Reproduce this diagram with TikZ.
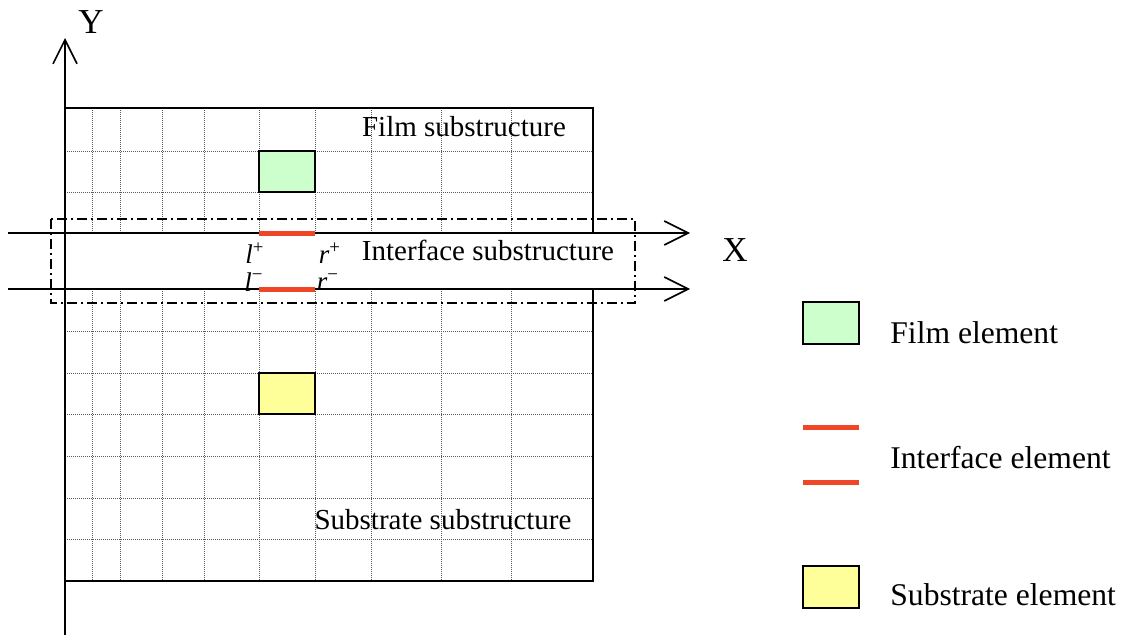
\documentclass[tikz,border=0pt]{standalone}
\usepackage{fontspec}
\setmainfont{Liberation Serif}
\usetikzlibrary{arrows.meta}
\definecolor{filmgreen}{HTML}{CCFFCC}
\definecolor{subyellow}{HTML}{FFFF99}
\definecolor{ifacered}{HTML}{F04628}

\begin{document}
\begin{tikzpicture}[x=0.5pt,y=-0.5pt,
    gridline/.style={black!65,dash pattern=on 0.5pt off 0.5pt,line width=0.5pt},
    outline/.style={black,line width=0.8pt},
    axis/.style={black,line width=0.8pt,-{Straight Barb[length=12pt,width=12pt,line width=0.8pt]}},
    element/.style={draw=black,line width=0.8pt},
    iface/.style={ifacered,line width=2.5pt},
    dashdot/.style={line width=0.7pt,dash pattern=on 5pt off 2pt on 1pt off 2pt},
    lbl/.style={font=\fontsize{14.5}{16}\selectfont,inner sep=0pt},
    idx/.style={font=\fontsize{13.5}{15}\selectfont,inner sep=0pt},
    axlbl/.style={font=\fontsize{17.5}{20}\selectfont,inner sep=0pt},
    leg/.style={font=\fontsize{15.8}{18}\selectfont,inner sep=0pt,anchor=west}]
    \useasboundingbox (0,0) rectangle (1125,637);

    % Mesh
    \foreach \gx in {92,120,162,204,259,315,371,441,511} {
        \draw[gridline] (\gx,108) -- (\gx,233);
        \draw[gridline] (\gx,289) -- (\gx,581);
    }
    \foreach \gy in {151,192,331,373,414,456,498,539}
        \draw[gridline] (65,\gy) -- (593,\gy);

    % Substructures
    \draw[outline] (65,233) -- (65,108) -- (593,108) -- (593,233);
    \draw[outline] (65,289) -- (65,581) -- (593,581) -- (593,289);
    \draw[dashdot] (51,219) rectangle (635,303);

    % Axes
    \draw[axis] (65,635) -- (65,38);
    \draw[axis] (8,233) -- (690,233);
    \draw[axis] (8,289) -- (690,289);
    \node[axlbl] (ylabel) at (91,22) {Y};
    \node[axlbl] (xlabel) at (735,250) {X};

    % Elements
    \draw[element,fill=filmgreen] (259,151) rectangle (315,192);
    \draw[element,fill=subyellow] (259,373) rectangle (315,414);
    \draw[iface] (259,233) -- (315,233);
    \draw[iface] (259,289) -- (315,289);
    \node[idx] (lplus) at (255,253) {\textit{l}\textsuperscript{+}};
    \node[idx] (rplus) at (330,253) {\textit{r}\textsuperscript{+}};
    \node[idx] (lminus) at (254,282) {\textit{l}\textsuperscript{−}};
    \node[idx] (rminus) at (328,282) {\textit{r}\textsuperscript{−}};

    \node[lbl] (filmsub) at (464,127) {Film substructure};
    \node[lbl] (ifacesub) at (488,250) {Interface substructure};
    \node[lbl] (subsub) at (443,520) {Substrate substructure};

    % Legend
    \draw[element,fill=filmgreen] (803,302) rectangle (859,344);
    \node[leg] (legfilm) at (890,333) {Film element};
    \draw[iface] (803,427) -- (859,427);
    \draw[iface] (803,482) -- (859,482);
    \node[leg] (legiface) at (890,458) {Interface element};
    \draw[element,fill=subyellow] (803,566) rectangle (859,608);
    \node[leg] (legsub) at (890,595) {Substrate element};
\end{tikzpicture}
\end{document}
